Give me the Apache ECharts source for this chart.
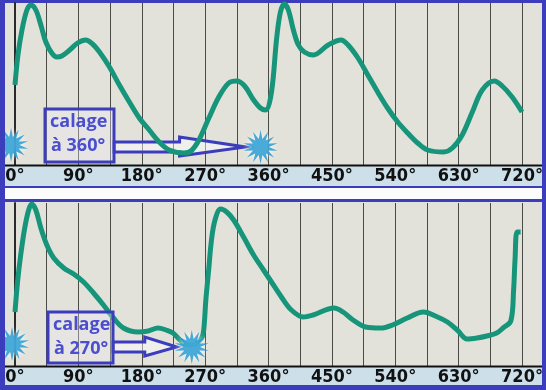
<!DOCTYPE html>
<html><head><meta charset="utf-8">
<script src="https://cdn.jsdelivr.net/npm/echarts@6/dist/echarts.min.js"></script>
<style>html,body{margin:0;padding:0;background:#3b3dbd;}#c{width:546px;height:390px;}</style>
</head><body><div id="c"></div>
<script>
// ---- data (crank angle in degrees, relative value) ----
var tickLabels = ['0°','90°','180°','270°','360°','450°','540°','630°','720°'];
var tickDeg = [0,90,180,270,360,450,540,630,720];

var topDeg = [0,4.2,9.9,16.9,22.6,29.6,36.7,43.8,52.2,59.3,66.4,77.6,88.9,100.2,110.1,120,134.1,148.2,162.4,176.5,190.6,204.7,218.8,240,249.9,261.2,275.3,289.4,303.5,314.8,326.1,338.8,348.5,355.8,364.2,371.3,376.9,382.6,388.2,395.3,402.4,410.8,423.5,444.7,463,473,487,501,515,529,543.5,557.6,571.8,585.9,608.5,621,635,649.4,663.5,680.5,691.8,705.9,720];
var topVal = [80,110,135,155,160,155,140,123,112,108,109,115,122,125,121,113,98,80,63,47,35,23,15,12,14,25,47,68,82,84,79,65,57,55,73,125,153,161,155,135,120,113,110,120,125,120,107,90,73,57,43,32,22,15,13,17,30,53,75,84,79,68,53];

var botDeg = [0,3.9,8.1,13.8,19.4,23.7,29.6,36.7,45.2,55,69.2,83.3,97.4,111.5,125.6,139.8,153.9,175,189.1,203.2,214.5,224.4,234.3,245.6,256,265,268,271,275,279,284,292,300.6,310.5,324.6,338.8,352.9,364.2,378.3,392.4,409.4,423.4,453,465.8,480,498,519,536,557,580,600,614,628,642,656,670,684,693,704,708,710,713,718];
var botVal = [54,86,111,138,156,162,156,138,121,108,98,92,84,73,61,48,38,34,35,38,36,33,26,21,22,28,36,66,96,126,146,157,154,146,129,111,96,84,69,56,49,51,58,54,46,39,38,41,48,54,49,44,36,27,28,30,33,38,45,76,106,134,134];

var topStarDeg = [-5.6, 348.7];
var topStarVal = [20, 18];
var botStarDeg = [-4.2, 251];
var botStarVal = [22, 19];

var topNote = ['calage', 'à 360°'];
var botNote = ['calage', 'à 270°'];

// ---- styles ----
var BLUE = '#3b3dbd', TEXTBLUE = '#4a4ecf', GREEN = '#17957a', STAR = '#1e97d2';
var PLOTBG = '#e3e2da', BAND = '#cde0ea';
var LABELFONT = "'Liberation Sans Narrow','DejaVu Sans Condensed','Liberation Sans',sans-serif";
var NOTEFONT = "'Open Sans','Noto Sans',sans-serif";

function zip(a, b) { return a.map(function (v, i) { return [v, b[i]]; }); }

// 12-point star symbol
var sp = [];
for (var i = 0; i < 28; i++) {
  var a = i * Math.PI / 14 - Math.PI / 2, r = (i % 2 === 0) ? 50 : 24;
  sp.push((i ? 'L' : 'M') + (50 + r * Math.cos(a)).toFixed(2) + ' ' + (50 + r * Math.sin(a)).toFixed(2));
}
var starPath = 'path://' + sp.join(' ') + ' Z';

function xAx(gi) {
  return {
    type: 'value', gridIndex: gi, min: 0, max: 720, interval: 45,
    axisLine: { show: false }, axisTick: { show: false },
    axisLabel: {
      margin: 2, color: '#111', fontSize: 18, fontWeight: 'bold', fontFamily: LABELFONT,
      formatter: function (v) { var k = tickDeg.indexOf(v); return k >= 0 ? tickLabels[k] : ''; }
    },
    splitLine: { show: true, lineStyle: { color: '#4a4a46', width: 1 } }
  };
}
function yAx(gi, mx) {
  return {
    type: 'value', gridIndex: gi, min: 0, max: mx,
    axisLine: { show: true, lineStyle: { color: '#2a2a2a', width: 2 } },
    axisTick: { show: false }, axisLabel: { show: false }, splitLine: { show: false }
  };
}

var bg = [
  { type: 'rect', z: -100, shape: { x: 5, y: 3, width: 537, height: 162 }, style: { fill: PLOTBG } },
  { type: 'rect', z: -100, shape: { x: 5, y: 166, width: 537, height: 20 }, style: { fill: BAND } },
  { type: 'rect', z: -100, shape: { x: 5, y: 188, width: 537, height: 11 }, style: { fill: '#fcfcfc' } },
  { type: 'rect', z: -100, shape: { x: 5, y: 202, width: 537, height: 164 }, style: { fill: PLOTBG } },
  { type: 'rect', z: -100, shape: { x: 5, y: 367, width: 537, height: 18 }, style: { fill: BAND } },
  { type: 'rect', z: 50, shape: { x: 5, y: 164.5, width: 537, height: 2 }, style: { fill: '#111' } },
  { type: 'rect', z: 50, shape: { x: 5, y: 365.5, width: 537, height: 2 }, style: { fill: '#111' } },
  { type: 'rect', z: 100, shape: { x: 0, y: 0, width: 5, height: 390 }, style: { fill: BLUE } },
  { type: 'rect', z: 100, shape: { x: 542, y: 0, width: 4, height: 390 }, style: { fill: BLUE } }
];

var chart = echarts.init(document.getElementById('c'), null, { renderer: 'canvas' });
chart.setOption({
  animation: false,
  backgroundColor: BLUE,
  grid: [
    { left: 15, right: 20.5, top: 3, height: 162 },
    { left: 15, right: 20.5, top: 203, height: 163 }
  ],
  xAxis: [xAx(0), xAx(1)],
  yAxis: [yAx(0, 162), yAx(1, 163)],
  graphic: { elements: bg },
  series: [
    { type: 'line', xAxisIndex: 0, yAxisIndex: 0, data: zip(topDeg, topVal), smooth: 0.35, showSymbol: false,
      lineStyle: { color: GREEN, width: 5 }, z: 3 },
    { type: 'line', xAxisIndex: 1, yAxisIndex: 1, data: zip(botDeg, botVal), smooth: 0.35, showSymbol: false,
      lineStyle: { color: GREEN, width: 5 }, z: 3 },
    { type: 'scatter', xAxisIndex: 0, yAxisIndex: 0, data: zip(topStarDeg, topStarVal), clip: false,
      symbol: starPath, symbolSize: 34, z: 5,
      itemStyle: { color: STAR, shadowBlur: 4, shadowColor: 'rgba(255,255,255,0.95)' } },
    { type: 'scatter', xAxisIndex: 1, yAxisIndex: 1, data: zip(botStarDeg, botStarVal), clip: false,
      symbol: starPath, symbolSize: 34, z: 5,
      itemStyle: { color: STAR, shadowBlur: 4, shadowColor: 'rgba(255,255,255,0.95)' } }
  ]
});

// annotation boxes + hollow arrows pointing at the second star of each panel
function note(gi, lines, boxX, boxY, boxW, boxH, starDeg, starVal, headBack) {
  var p = chart.convertToPixel({ gridIndex: gi }, [starDeg, starVal]);
  var tipX = p[0] - 15, cy = p[1];
  var x0 = boxX + boxW, hx = tipX - headBack;
  var els = [];
  els.push({ type: 'polygon', z: 1, shape: { points: [
      [x0, cy - 5], [hx, cy - 5], [hx, cy - 10], [tipX, cy], [hx, cy + 9], [hx, cy + 5], [x0, cy + 5]] },
    style: { fill: 'rgba(255,255,255,0.45)', stroke: BLUE, lineWidth: 3 } });
  els.push({ type: 'rect', z: 60, shape: { x: boxX, y: boxY, width: boxW, height: boxH },
    style: { fill: 'rgba(235,235,245,0.35)', stroke: BLUE, lineWidth: 3 } });
  els.push({ type: 'text', z: 61, style: { text: lines[0], x: boxX + 5, y: boxY + 13, fill: TEXTBLUE,
    font: 'bold 18px ' + NOTEFONT, textVerticalAlign: 'middle' } });
  els.push({ type: 'text', z: 61, style: { text: lines[1], x: boxX + 6, y: boxY + 37, fill: TEXTBLUE,
    font: 'bold 18px ' + NOTEFONT, textVerticalAlign: 'middle' } });
  return els;
}
var extra = [].concat(
  note(0, topNote, 45, 109, 69, 53, topStarDeg[1], topStarVal[1], 66),
  note(1, botNote, 48, 312, 65, 51, botStarDeg[1], botStarVal[1], 32)
);
chart.setOption({ graphic: { elements: bg.concat(extra) } });
</script>
</body></html>
